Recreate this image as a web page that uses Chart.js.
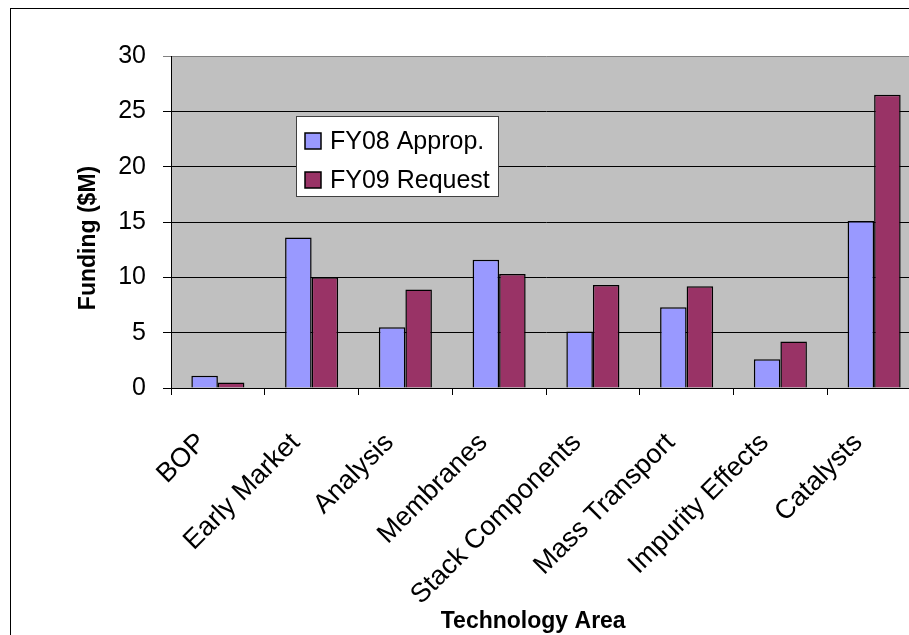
<!DOCTYPE html>
<html>
<head>
<meta charset="utf-8">
<script src="https://cdn.jsdelivr.net/npm/chart.js@4.4.1/dist/chart.umd.min.js"></script>
<style>
  html, body { margin: 0; padding: 0; background: #fff; overflow: hidden; }
  #wrap { width: 909px; height: 635px; overflow: hidden; }
</style>
</head>
<body>
<div id="wrap"><canvas id="myChart" width="930" height="635"></canvas></div>
<script>
const categories = [
  "BOP",
  "Early Market",
  "Analysis",
  "Membranes",
  "Stack Components",
  "Mass Transport",
  "Impurity Effects",
  "Catalysts",
];
const fy08Values = [1.1, 13.6, 5.5, 11.6, 5.1, 7.3, 2.6, 15.1];
const fy09Values = [0.5, 10.0, 8.9, 10.3, 9.3, 9.2, 4.2, 26.5];
const seriesNames = ["FY08 Approp.", "FY09 Request"];
const yTicks = [0, 5, 10, 15, 20, 25, 30];

const FONT = "'Liberation Sans', Arial, sans-serif";

// grey plot area + outer frame
const backdrop = {
  id: "backdrop",
  beforeDraw(chart) {
    const { ctx, chartArea: a } = chart;
    ctx.save();
    ctx.fillStyle = "#C0C0C0";
    ctx.fillRect(a.left, a.top, a.right - a.left, a.bottom - a.top);
    ctx.strokeStyle = "#000";
    ctx.lineWidth = 1;
    ctx.strokeRect(10.5, 8.5, 1000, 1000);
    ctx.restore();
  },
};

// boxed legend inside the plot, like the original
const boxLegend = {
  id: "boxLegend",
  afterDraw(chart) {
    const { ctx } = chart;
    const x = 296, y = 116, w = 202, h = 80;
    ctx.save();
    ctx.fillStyle = "#fff";
    ctx.fillRect(x, y, w, h);
    ctx.strokeStyle = "#404040";
    ctx.lineWidth = 1;
    ctx.strokeRect(x + 0.5, y + 0.5, w, h);
    ctx.font = "25px " + FONT;
    ctx.textBaseline = "middle";
    chart.data.datasets.forEach((ds, i) => {
      const cy = y + 25 + i * 39;
      ctx.fillStyle = ds.backgroundColor;
      ctx.fillRect(x + 9, cy - 8, 16, 16);
      ctx.strokeStyle = "#000";
      ctx.lineWidth = 1.5;
      ctx.strokeRect(x + 9, cy - 8, 16, 16);
      ctx.fillStyle = "#000";
      ctx.fillText(ds.label, x + 34, cy + 1);
    });
    ctx.restore();
  },
};

const ctx = document.getElementById("myChart").getContext("2d");
const chart = new Chart(ctx, {
  type: "bar",
  data: {
    labels: categories,
    datasets: [
      {
        label: seriesNames[0],
        data: fy08Values,
        backgroundColor: "#9999FF",
        borderColor: "#000",
        borderWidth: 1.5,
      },
      {
        label: seriesNames[1],
        data: fy09Values,
        backgroundColor: "#993366",
        borderColor: "#000",
        borderWidth: 1.5,
      },
    ],
  },
  plugins: [backdrop, boxLegend],
  options: {
    responsive: false,
    animation: false,
    layout: { padding: { top: 56, right: 9, left: 0, bottom: 0 } },
    datasets: {
      bar: { categoryPercentage: 0.566, barPercentage: 1.0 },
    },
    plugins: {
      legend: { display: false },
      tooltip: { enabled: false },
    },
    scales: {
      x: {
        grid: {
          offset: true,
          drawOnChartArea: false,
          color: "#000",
          tickLength: 7,
        },
        border: { color: "#000", width: 1 },
        ticks: {
          autoSkip: false,
          minRotation: 45,
          maxRotation: 45,
          color: "#000",
          padding: 16,
          font: { family: FONT, size: 27 },
          // trailing spaces slide the slanted labels down-left along their line
          callback: (v, i) => categories[i] + "   ",
        },
        title: {
          display: true,
          text: "Technology Area    ",
          color: "#000",
          font: { family: FONT, size: 23, weight: "bold" },
          padding: { top: 11, bottom: 0 },
        },
        afterFit(scale) {
          scale.height = 247;
        },
      },
      y: {
        min: 0,
        max: 30,
        afterBuildTicks(scale) {
          scale.ticks = yTicks.map((v) => ({ value: v }));
        },
        grid: {
          color: (c) => (c.tick && c.tick.value === 30 ? "#808080" : "#000"),
          tickLength: 8,
        },
        border: { color: "#000", width: 1 },
        ticks: {
          color: "#000",
          padding: 17,
          font: { family: FONT, size: 25 },
        },
        title: {
          display: true,
          text: "Funding ($M)     ",
          color: "#000",
          font: { family: FONT, size: 23, weight: "bold" },
          padding: { top: 75, bottom: 0 },
        },
        afterFit(scale) {
          scale.width = 171;
        },
      },
    },
  },
});
</script>
</body>
</html>
